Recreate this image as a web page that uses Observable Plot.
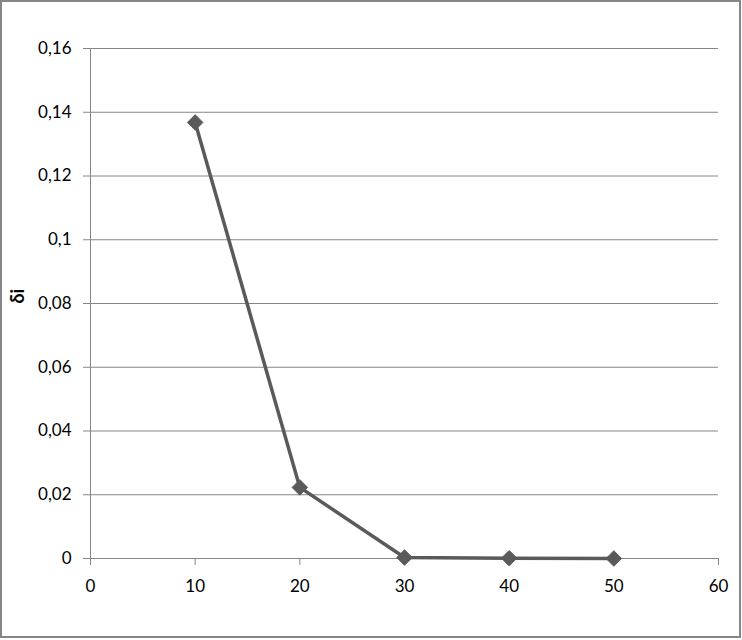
<!DOCTYPE html>
<html>
<head>
<meta charset="utf-8">
<script src="https://cdn.jsdelivr.net/npm/d3@7"></script>
<script src="https://cdn.jsdelivr.net/npm/@observablehq/plot@0.6"></script>
<style>
  html, body { margin: 0; padding: 0; background: #fff; }
  #wrap { position: relative; width: 742px; height: 640px; }
  #border { position: absolute; left: 0; top: 0; width: 741px; height: 638px; box-sizing: border-box; border: 2px solid #868686; pointer-events: none; }
</style>
</head>
<body>
<div id="wrap"><div id="border"></div></div>
<script>
const xValues = [10, 20, 30, 40, 50];
const deltaValues = [0.1368, 0.0223, 0.0003, 0.0001, 0.0];
const xTicks = [0, 10, 20, 30, 40, 50, 60];
const yTicks = [0, 0.02, 0.04, 0.06, 0.08, 0.1, 0.12, 0.14, 0.16];
const yLabel = "δi";

const data = xValues.map((x, i) => ({x, y: deltaValues[i]}));
const fmtY = d => String(+d.toFixed(4)).replace(".", ",");
const grey = "#868686";
const lineColor = "#5a5a5a";

const chart = Plot.plot({
  width: 742,
  height: 640,
  marginLeft: 90,
  marginRight: 24,
  marginTop: 48,
  marginBottom: 82,
  style: {fontFamily: "Lato, sans-serif", fontSize: "17px", color: "#000", background: "transparent"},
  x: {domain: [0, 60]},
  y: {domain: [0, 0.16]},
  marks: [
    Plot.gridY(yTicks, {stroke: grey, strokeOpacity: 1, strokeWidth: 1}),
    Plot.ruleX([0], {stroke: grey, strokeWidth: 1}),
    Plot.ruleY([0], {stroke: grey, strokeWidth: 1}),
    Plot.axisY(yTicks, {tickSize: 7, tickPadding: 12, stroke: grey, fill: "#000", tickFormat: fmtY, label: null}),
    Plot.axisX(xTicks, {tickSize: 7, tickPadding: 14, stroke: grey, fill: "#000", tickFormat: d => String(d), label: null}),
    Plot.line(data, {x: "x", y: "y", stroke: lineColor, strokeWidth: 3.5}),
    Plot.dot(data, {x: "x", y: "y", symbol: "diamond2", fill: lineColor, stroke: lineColor, strokeWidth: 1, r: 7}),
    Plot.text([yLabel], {frameAnchor: "left", dx: -72, rotate: -90, fontWeight: "bold", fontSize: 18, fill: "#000"})
  ]
});
document.getElementById("wrap").prepend(chart);
</script>
</body>
</html>
